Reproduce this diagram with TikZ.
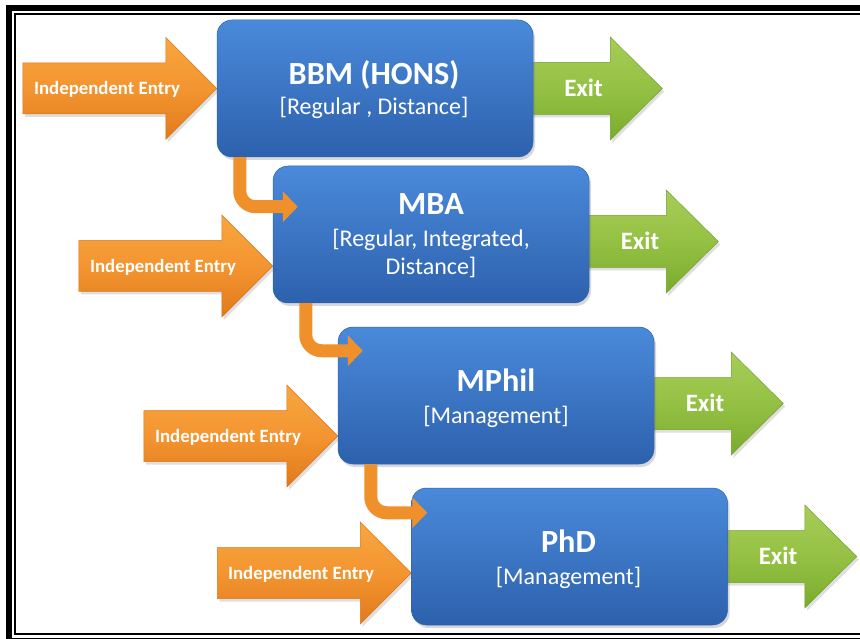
\documentclass[tikz,border=0pt]{standalone}
\usepackage{fontspec}
\setmainfont{Carlito}
\usetikzlibrary{calc,arrows.meta,shadows}
\pgfdeclarelayer{bg}
\pgfsetlayers{bg,main}
\definecolor{boxtop}{HTML}{4A8ADA}
\definecolor{boxbot}{HTML}{2D61AD}
\definecolor{boxedge}{HTML}{2F63AA}
\definecolor{ortop}{HTML}{F8A640}
\definecolor{ormid}{HTML}{F39530}
\definecolor{orbot}{HTML}{E07A1C}
\definecolor{oredge}{HTML}{D9771E}
\definecolor{grtop}{HTML}{A6CD58}
\definecolor{grmid}{HTML}{94C143}
\definecolor{grbot}{HTML}{7AAB2D}
\definecolor{gredge}{HTML}{739F2C}
\definecolor{conncol}{HTML}{F0902A}
\tikzset{
  prog/.style={rectangle, rounded corners=15pt, minimum width=316pt, minimum height=137pt,
    top color=boxtop, bottom color=boxbot, draw=boxedge, line width=0.5pt,
    drop shadow={shadow xshift=2pt, shadow yshift=-3pt, opacity=0.3}},
  ttl/.style={anchor=base, inner sep=0pt, text=white, font=\fontsize{32.3}{33}\selectfont\bfseries},
  sub/.style={anchor=base, inner sep=0pt, text=white, font=\fontsize{24}{26}\selectfont},
  entrylbl/.style={anchor=base, inner sep=0pt, text=white, font=\fontsize{18.8}{20}\selectfont\bfseries},
  exitlbl/.style={anchor=base, inner sep=0pt, text=white, font=\fontsize{25}{26}\selectfont\bfseries},
  entryarr/.style={top color=ortop, bottom color=orbot, middle color=ormid, draw=oredge, line width=0.5pt,
    drop shadow={shadow xshift=2pt, shadow yshift=-3pt, opacity=0.25}},
  exitarr/.style={top color=grtop, bottom color=grbot, middle color=grmid, draw=gredge, line width=0.5pt,
    drop shadow={shadow xshift=2pt, shadow yshift=-3pt, opacity=0.25}},
  conn/.style={draw=conncol, line width=13pt, rounded corners=16pt, -{Triangle[length=15pt,width=30pt]}},
}
\newcommand\entryarrow[1]{\path[entryarr] (#1) -- ++(-51,-51) -- ++(0,25.5) -- ++(-143,0) -- ++(0,51) -- ++(143,0) -- ++(0,25.5) -- cycle;}
\newcommand\exitarrow[1]{\path[exitarr] ($(#1)+(-3,-26)$) -- ++(80,0) -- ++(0,-25.5) -- ++(52,51.5) -- ++(-52,51.5) -- ++(0,-25.5) -- ++(-80,0) -- cycle;}
\begin{document}
\begin{tikzpicture}[x=1pt,y=-1pt]
\useasboundingbox (0,0) rectangle (860,639);
\clip (0,0) rectangle (860,639);
\begin{pgfonlayer}{bg}
\fill[white] (0,0) rectangle (860,639);
\end{pgfonlayer}
% programme boxes
\node[prog] (bbm) at (375,88.5) {};
\node[prog] (mba) at (431,234.5) {};
\node[prog] (mphil) at (496,395.5) {};
\node[prog] (phd) at (569.5,556.5) {};
% box texts
\node[ttl] (bbmT) at (374,85) {BBM (HONS)};
\node[sub] (bbmS) at (374,115) {[Regular , Distance]};
\node[ttl] (mbaT) at (431,215) {MBA};
\node[sub] (mbaS1) at (431,247) {[Regular, Integrated,};
\node[sub] (mbaS2) at (431,275) {Distance]};
\node[ttl] (mphilT) at (496,391) {MPhil};
\node[sub] (mphilS) at (496,423) {[Management]};
\node[ttl] (phdT) at (568.5,552) {PhD};
\node[sub] (phdS) at (568.5,584) {[Management]};
% arrow anchor points
\coordinate (in1) at (bbm.west);
\coordinate (in2) at ($(mba.west)+(0,31.5)$);
\coordinate (in3) at ($(mphil.west)+(0,40.5)$);
\coordinate (in4) at ($(phd.west)+(0,16.5)$);
\coordinate (out1) at (bbm.east);
\coordinate (out2) at ($(mba.east)+(0,7)$);
\coordinate (out3) at ($(mphil.east)+(0,8)$);
\coordinate (out4) at (phd.east);
\begin{pgfonlayer}{bg}
\entryarrow{in1}
\entryarrow{in2}
\entryarrow{in3}
\entryarrow{in4}
\exitarrow{out1}
\exitarrow{out2}
\exitarrow{out3}
\exitarrow{out4}
\end{pgfonlayer}
% arrow labels
\node[entrylbl] (e1) at (107,95) {Independent Entry};
\node[entrylbl] (e2) at (163,273) {Independent Entry};
\node[entrylbl] (e3) at (228,442) {Independent Entry};
\node[entrylbl] (e4) at (301,579) {Independent Entry};
\node[exitlbl] (x1) at (583.5,97) {Exit};
\node[exitlbl] (x2) at (640,250) {Exit};
\node[exitlbl] (x3) at (705,411) {Exit};
\node[exitlbl] (x4) at (778,564) {Exit};
% connectors
\draw[conn] ($(bbm.south west)+(23,0)$) |- ($(mba.north west)+(25,41)$);
\draw[conn] ($(mba.south west)+(33,0)$) |- ($(mphil.north west)+(25,24)$);
\draw[conn] ($(mphil.south west)+(33,0)$) |- ($(phd.north west)+(16,25)$);
% frame
\draw[line width=6pt] (9,8) rectangle (880,641);
\draw[line width=2pt] (15,14.3) rectangle (875,633.7);
\end{tikzpicture}
\end{document}
